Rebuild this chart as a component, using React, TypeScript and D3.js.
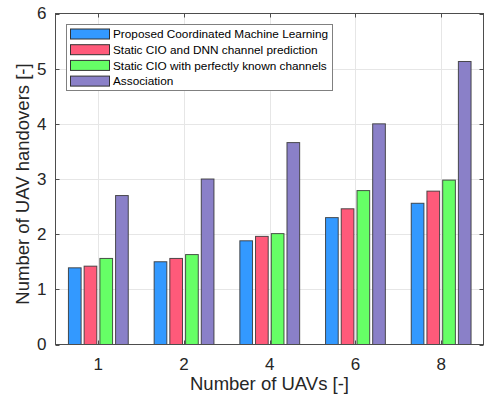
import React, { useEffect, useRef } from 'react';
import * as d3 from 'd3';

const categories = ['1', '2', '4', '6', '8'];
const seriesNames = [
  'Proposed Coordinated Machine Learning',
  'Static CIO and DNN channel prediction',
  'Static CIO with perfectly known channels',
  'Association',
];
const proposed = [1.39, 1.5, 1.88, 2.3, 2.56];
const staticDnn = [1.42, 1.56, 1.96, 2.46, 2.78];
const staticKnown = [1.56, 1.63, 2.01, 2.79, 2.98];
const association = [2.7, 3.0, 3.66, 4.0, 5.13];
const yTicks = [0, 1, 2, 3, 4, 5, 6];
const colors = ['#3399ff', '#ff5a7a', '#66ff66', '#8a80c8'];

const App = () => {
  const ref = useRef<SVGSVGElement>(null);

  useEffect(() => {
    const width = 484;
    const height = 403;
    const left = 55.5, right = 483.5, top = 13.5, bottom = 344.5;
    const series = [proposed, staticDnn, staticKnown, association];

    const svg = d3.select(ref.current);
    svg.selectAll('*').remove();
    svg.attr('width', width).attr('height', height)
      .style('font-family', '"Liberation Sans", Arial, sans-serif');

    const x = d3.scaleLinear().domain([0.5, categories.length + 0.5]).range([left, right + 0.5]);
    const y = d3.scaleLinear().domain([0, 6]).range([bottom, top]);

    svg.append('rect').attr('x', 0).attr('y', 0).attr('width', width).attr('height', height).attr('fill', '#fff');

    // grid
    const grid = svg.append('g').attr('stroke', '#e6e6e6').attr('stroke-width', 1);
    yTicks.slice(1, -1).forEach(t => {
      grid.append('line').attr('x1', left).attr('x2', right).attr('y1', Math.round(y(t)) + 0.5).attr('y2', Math.round(y(t)) + 0.5);
    });
    categories.forEach((_, i) => {
      const xx = Math.round(x(i + 1)) + 0.5;
      grid.append('line').attr('x1', xx).attr('x2', xx).attr('y1', top).attr('y2', bottom);
    });

    // bars
    const offsets = [-0.275, -0.092, 0.092, 0.275];
    const barW = 0.148;
    series.forEach((vals, s) => {
      svg.append('g').selectAll('rect').data(vals).join('rect')
        .attr('x', (d, i) => x(i + 1 + offsets[s] - barW / 2))
        .attr('width', x(barW) - x(0))
        .attr('y', d => y(d))
        .attr('height', d => y(0) - y(d))
        .attr('fill', colors[s])
        .attr('stroke', '#333')
        .attr('stroke-opacity', 0.85)
        .attr('stroke-width', 1);
    });

    // axes box and ticks
    const ax = svg.append('g').attr('stroke-width', 1).attr('fill', 'none');
    ax.append('rect').attr('x', left).attr('y', top).attr('width', right - left).attr('height', bottom - top).attr('stroke', '#4d4d4d');
    yTicks.forEach(t => {
      const yy = Math.round(y(t)) + 0.5;
      ax.append('line').attr('x1', left).attr('x2', left + 4).attr('y1', yy).attr('y2', yy).attr('stroke', '#4d4d4d');
      ax.append('line').attr('x1', right - 4).attr('x2', right).attr('y1', yy).attr('y2', yy).attr('stroke', '#4d4d4d');
    });
    categories.forEach((_, i) => {
      const xx = Math.round(x(i + 1)) + 0.5;
      ax.append('line').attr('x1', xx).attr('x2', xx).attr('y1', bottom).attr('y2', bottom - 4).attr('stroke', '#4d4d4d');
      ax.append('line').attr('x1', xx).attr('x2', xx).attr('y1', top).attr('y2', top + 4).attr('stroke', '#4d4d4d');
    });

    // tick labels
    svg.append('g').selectAll('text').data(yTicks).join('text')
      .attr('x', left - 9).attr('y', d => y(d)).attr('dy', '0.35em')
      .attr('text-anchor', 'end').attr('font-size', 17).attr('fill', '#262626')
      .text(d => d);
    svg.append('g').selectAll('text').data(categories).join('text')
      .attr('x', (d, i) => x(i + 1)).attr('y', bottom + 25)
      .attr('text-anchor', 'middle').attr('font-size', 17).attr('fill', '#262626')
      .text(d => d);

    // axis titles
    svg.append('text').attr('x', (left + right) / 2).attr('y', 389.5)
      .attr('text-anchor', 'middle').attr('font-size', 18.5).attr('fill', '#262626')
      .text('Number of UAVs [-]');
    svg.append('text').attr('transform', `translate(29,${(top + bottom) / 2 + 5}) rotate(-90)`)
      .attr('text-anchor', 'middle').attr('font-size', 18.5).attr('fill', '#262626')
      .text('Number of UAV handovers [-]');

    // legend
    const lg = svg.append('g');
    lg.append('rect').attr('x', 66.5).attr('y', 24.5).attr('width', 266).attr('height', 66)
      .attr('fill', '#fff').attr('stroke', '#808080');
    seriesNames.forEach((name, i) => {
      const cy = 34 + i * 15.7;
      lg.append('rect').attr('x', 70.5).attr('y', cy - 5).attr('width', 39).attr('height', 10)
        .attr('fill', colors[i]).attr('stroke', '#333');
      lg.append('text').attr('x', 113).attr('y', cy).attr('dy', '0.35em')
        .attr('font-size', 11.8).attr('fill', '#000').text(name);
    });
  }, []);

  return <svg ref={ref} style={{ display: 'block', position: 'absolute', left: 0, top: 0 }}></svg>;
};

export default App;
